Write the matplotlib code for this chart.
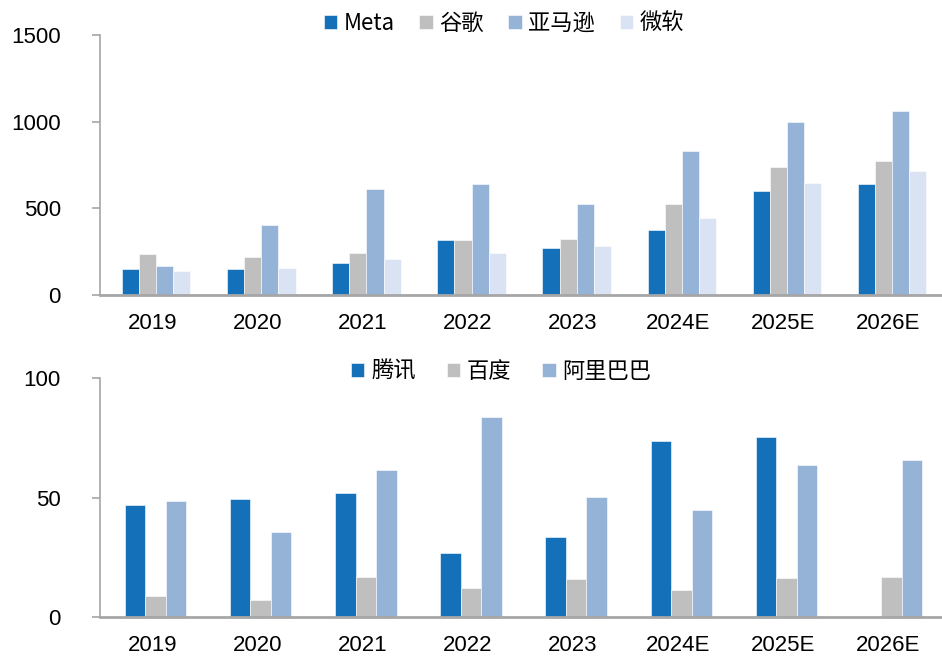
import numpy as np
import matplotlib
matplotlib.use("Agg")
import matplotlib.pyplot as plt

plt.rcParams['font.family'] = ['Liberation Sans', 'Noto Sans CJK SC', 'DejaVu Sans']

years = ['2019', '2020', '2021', '2022', '2023', '2024E', '2025E', '2026E']

# top panel: US companies
us_names = ['Meta', '谷歌', '亚马逊', '微软']
meta = [150, 150, 185, 317, 271, 375, 600, 640]
google = [237, 219, 242, 317, 323, 525, 738, 773]
amazon = [167, 404, 612, 640, 525, 831, 998, 1062]
msft = [138, 156, 208, 242, 283, 444, 646, 715]

# bottom panel: Chinese companies
cn_names = ['腾讯', '百度', '阿里巴巴']
tencent = [46.9, 49.4, 51.9, 26.8, 33.5, 73.6, 75.3, np.nan]
baidu = [8.8, 7.1, 16.7, 12.1, 15.9, 11.3, 16.3, 16.7]
alibaba = [48.5, 35.6, 61.5, 83.7, 50.2, 44.8, 63.6, 65.7]

c1, c2, c3, c4 = '#1470B8', '#BFBFBF', '#95B3D7', '#DAE3F3'
axcol = '#A6A6A6'

fig = plt.figure(figsize=(9.42, 6.58), dpi=100)
ax1 = fig.add_axes([0.106, 0.5517, 0.893, 0.3951])
ax2 = fig.add_axes([0.106, 0.0623, 0.893, 0.3632])

x = np.arange(len(years))


def style(ax, ymax, step):
    ax.set_xlim(-0.5, len(years) - 0.5)
    ax.set_ylim(0, ymax)
    ax.set_yticks(np.arange(0, ymax + 1, step))
    ax.set_xticks(x)
    ax.set_xticklabels(years)
    for s in ['top', 'right']:
        ax.spines[s].set_visible(False)
    ax.spines['left'].set_color(axcol)
    ax.spines['bottom'].set_color(axcol)
    ax.spines['left'].set_linewidth(1.2)
    ax.spines['bottom'].set_linewidth(2)
    ax.tick_params(axis='y', direction='out', length=6, color=axcol, width=1.2,
                   labelsize=16, pad=22)
    ax.tick_params(axis='x', length=0, labelsize=16, pad=13)


w = 0.163
series = [meta, google, amazon, msft]
cols = [c1, c2, c3, c4]
for i, (vals, col, name) in enumerate(zip(series, cols, us_names)):
    ax1.bar(x + (i - 1.5) * w + 0.035, vals, w, color=col, edgecolor='white',
            linewidth=0.4, label=name)
style(ax1, 1500, 500)

w2 = 0.195
series2 = [tencent, baidu, alibaba]
for i, (vals, col, name) in enumerate(zip(series2, cols[:3], cn_names)):
    ax2.bar(x + (i - 1) * w2 + 0.03, vals, w2, color=col, edgecolor='white',
            linewidth=0.4, label=name)
style(ax2, 100, 50)

leg_kw = dict(frameon=False, ncol=4, handlelength=0.6, handleheight=0.6,
              handletextpad=0.3, columnspacing=1.1,
              prop={'family': ['Noto Sans CJK SC'], 'size': 16})
fig.legend(*ax1.get_legend_handles_labels(), loc='center',
           bbox_to_anchor=(0.535, 0.965), **leg_kw)
leg_kw['columnspacing'] = 1.4
fig.legend(*ax2.get_legend_handles_labels(), loc='center',
           bbox_to_anchor=(0.532, 0.436), **leg_kw)

fig.savefig('out.png', dpi=100)
